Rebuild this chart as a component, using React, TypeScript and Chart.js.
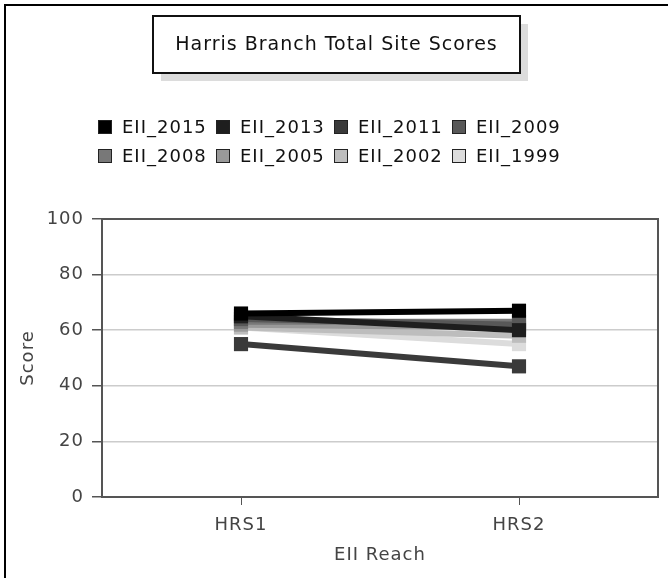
import React, { useEffect, useRef } from 'react';
import { Chart, registerables } from 'chart.js';

Chart.register(...registerables);

const chartTitle = 'Harris Branch Total Site Scores';
const xAxisTitle = 'EII Reach';
const yAxisTitle = 'Score';
const categories = ['HRS1', 'HRS2'];
const seriesNames = ['EII_2015', 'EII_2013', 'EII_2011', 'EII_2009', 'EII_2008', 'EII_2005', 'EII_2002', 'EII_1999'];
const eii2015 = [66, 67];
const eii2013 = [65, 60];
const eii2011 = [55, 47];
const eii2009 = [64, 62];
const eii2008 = [63, 63];
const eii2005 = [62, 61];
const eii2002 = [61, 58];
const eii1999 = [61, 55];
const seriesValues = [eii2015, eii2013, eii2011, eii2009, eii2008, eii2005, eii2002, eii1999];
const seriesColors = ['#000000', '#1e1e1e', '#3a3a3a', '#585858', '#787878', '#999999', '#bdbdbd', '#dcdcdc'];
const yMin = 0;
const yMax = 100;
const yStep = 20;

const FONT = '"DejaVu Sans", sans-serif';

const framePlugin = {
  id: 'frame',
  beforeUpdate(chart: any) {
    chart.ctx.letterSpacing = '1px';
  },
  beforeDraw(chart: any) {
    const ctx = chart.ctx;
    ctx.save();
    ctx.fillStyle = '#ffffff';
    ctx.fillRect(0, 0, chart.width, chart.height);
    // outer border
    ctx.strokeStyle = '#000000';
    ctx.lineWidth = 2;
    ctx.beginPath();
    ctx.moveTo(5, chart.height);
    ctx.lineTo(5, 5);
    ctx.lineTo(chart.width, 5);
    ctx.stroke();
    // title box with shadow
    const bx = 153, by = 16, bw = 367, bh = 57;
    ctx.fillStyle = '#dcdcdc';
    ctx.fillRect(bx + 8, by + 8, bw, bh);
    ctx.fillStyle = '#ffffff';
    ctx.fillRect(bx, by, bw, bh);
    ctx.strokeStyle = '#111111';
    ctx.lineWidth = 2;
    ctx.strokeRect(bx, by, bw, bh);
    ctx.fillStyle = '#111111';
    ctx.font = `19px ${FONT}`;
    ctx.textAlign = 'center';
    ctx.textBaseline = 'middle';
    ctx.fillText(chartTitle, bx + bw / 2, by + bh / 2 + 1);
    // legend (4 per row)
    ctx.font = `18px ${FONT}`;
    ctx.textAlign = 'left';
    const ds = chart.data.datasets;
    for (let i = 0; i < ds.length; i++) {
      const col = i % 4;
      const row = Math.floor(i / 4);
      const x = 98 + col * 118;
      const y = 127 + row * 29;
      ctx.fillStyle = ds[i].backgroundColor;
      ctx.fillRect(x, y - 7, 14, 14);
      ctx.strokeStyle = '#222222';
      ctx.lineWidth = 1;
      ctx.strokeRect(x + 0.5, y - 6.5, 13, 13);
      ctx.fillStyle = '#111111';
      ctx.fillText(ds[i].label, x + 24, y + 1);
    }
    ctx.restore();
  },
  afterDatasetsDraw(chart: any) {
    const { left, top, right, bottom } = chart.chartArea;
    const ctx = chart.ctx;
    ctx.save();
    ctx.strokeStyle = '#555555';
    ctx.lineWidth = 2;
    ctx.beginPath();
    ctx.moveTo(left, top);
    ctx.lineTo(right, top);
    ctx.lineTo(right, bottom);
    ctx.stroke();
    ctx.restore();
  },
};

export default function App() {
  const ref = useRef<HTMLCanvasElement | null>(null);
  useEffect(() => {
    if (!ref.current) return;
    const chart = new Chart(ref.current, {
      type: 'line',
      data: {
        labels: categories,
        datasets: seriesNames.map((name, i) => ({
          label: name,
          data: seriesValues[i],
          borderColor: seriesColors[i],
          backgroundColor: seriesColors[i],
          borderWidth: 6,
          pointStyle: 'rect',
          pointRadius: 10,
          pointBorderWidth: 0,
          pointBackgroundColor: seriesColors[i],
          fill: false,
          tension: 0,
        })),
      },
      options: {
        responsive: false,
        animation: false,
        devicePixelRatio: 1,
        layout: { padding: { top: 219, left: 10, right: 4, bottom: 0 } },
        plugins: {
          legend: { display: false },
          title: { display: false },
          tooltip: { enabled: false },
        },
        scales: {
          x: {
            type: 'category',
            offset: true,
            grid: { drawOnChartArea: false, drawTicks: true, tickLength: 8, tickColor: '#555555', offset: false },
            border: { display: true, color: '#555555', width: 2 },
            ticks: { color: '#444444', font: { family: FONT, size: 18 }, padding: 10 },
            title: { display: true, text: xAxisTitle, color: '#444444', font: { family: FONT, size: 18 }, padding: { top: 0, bottom: 12 } },
            afterFit: (s: any) => { s.height = 81; },
          },
          y: {
            min: yMin,
            max: yMax,
            ticks: { stepSize: yStep, color: '#444444', font: { family: FONT, size: 18 }, padding: 8 },
            grid: { color: '#cccccc', lineWidth: 1.5, tickLength: 10, tickColor: '#555555' },
            border: { display: true, color: '#555555', width: 2 },
            title: { display: true, text: yAxisTitle, color: '#444444', font: { family: FONT, size: 18 }, padding: { top: 8, bottom: 0 } },
            afterFit: (s: any) => { s.width = 92; },
          },
        },
      },
      plugins: [framePlugin],
    } as any);
    return () => chart.destroy();
  }, []);
  return (
    <div style={{ position: 'absolute', left: 0, top: 0, width: 668, height: 578 }}>
      <canvas ref={ref} width={668} height={578} style={{ display: 'block', width: 668, height: 578 }} />
    </div>
  );
}
